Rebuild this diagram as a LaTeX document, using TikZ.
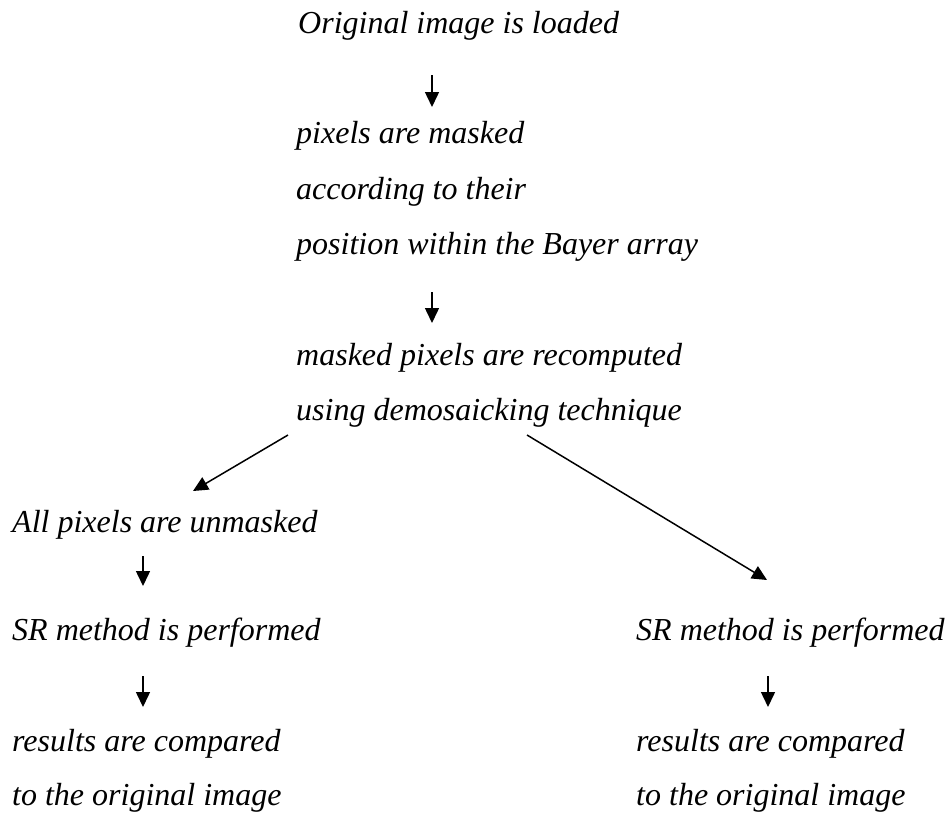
\documentclass[tikz,border=0pt]{standalone}
\usepackage{fontspec}
\setmainfont{Liberation Serif}
\usepackage{tikz}
\usetikzlibrary{arrows.meta}
\usetikzlibrary{calc}

\begin{document}
\begin{tikzpicture}[x=1pt, y=-1pt,
        text_style/.style={anchor=base west, inner sep=0pt, font=\fontsize{32}{38}\selectfont\itshape},
        edge_style/.style={draw=black, line width=1.5pt, -{Triangle[length=15pt,width=14pt]}}]

        \useasboundingbox (0,0) rectangle (949,814);

        \node [text_style](n1) at (298,33) {Original image is loaded};

        \node [text_style](n2) at (296,143) {pixels are masked};

        \node [text_style](n3) at (296,199) {according to their};

        \node [text_style](n4) at (296,254) {position within the Bayer array};

        \node [text_style](n5) at (296,365) {masked pixels are recomputed};

        \node [text_style](n6) at (296,420) {using demosaicking technique};

        \node [text_style](n7) at (12,532) {All pixels are unmasked};

        \node [text_style](n8) at (12,640) {SR method is performed};

        \node [text_style](n9) at (12,751) {results are compared};

        \node [text_style](n10) at (12,805) {to the original image};

        \node [text_style](n11) at (636,640) {SR method is performed};

        \node [text_style](n12) at (636,751) {results are compared};

        \node [text_style](n13) at (636,805) {to the original image};

        \coordinate (a1) at (432,75);   \coordinate (b1) at (432,107);
        \coordinate (a2) at (432,292);  \coordinate (b2) at (432,323);
        \coordinate (a3) at (288,435);  \coordinate (b3) at (193,491);
        \coordinate (a4) at (527,435);  \coordinate (b4) at (767,580);
        \coordinate (a5) at (143,556);  \coordinate (b5) at (143,586);
        \coordinate (a6) at (143,676);  \coordinate (b6) at (143,707);
        \coordinate (a7) at (768,676);  \coordinate (b7) at (768,707);

        \draw [edge_style] (a1) -- (b1);

        \draw [edge_style] (a2) -- (b2);

        \draw [edge_style] (a3) -- (b3);

        \draw [edge_style] (a4) -- (b4);

        \draw [edge_style] (a5) -- (b5);

        \draw [edge_style] (a6) -- (b6);

        \draw [edge_style] (a7) -- (b7);

        \end{tikzpicture}
\end{document}
